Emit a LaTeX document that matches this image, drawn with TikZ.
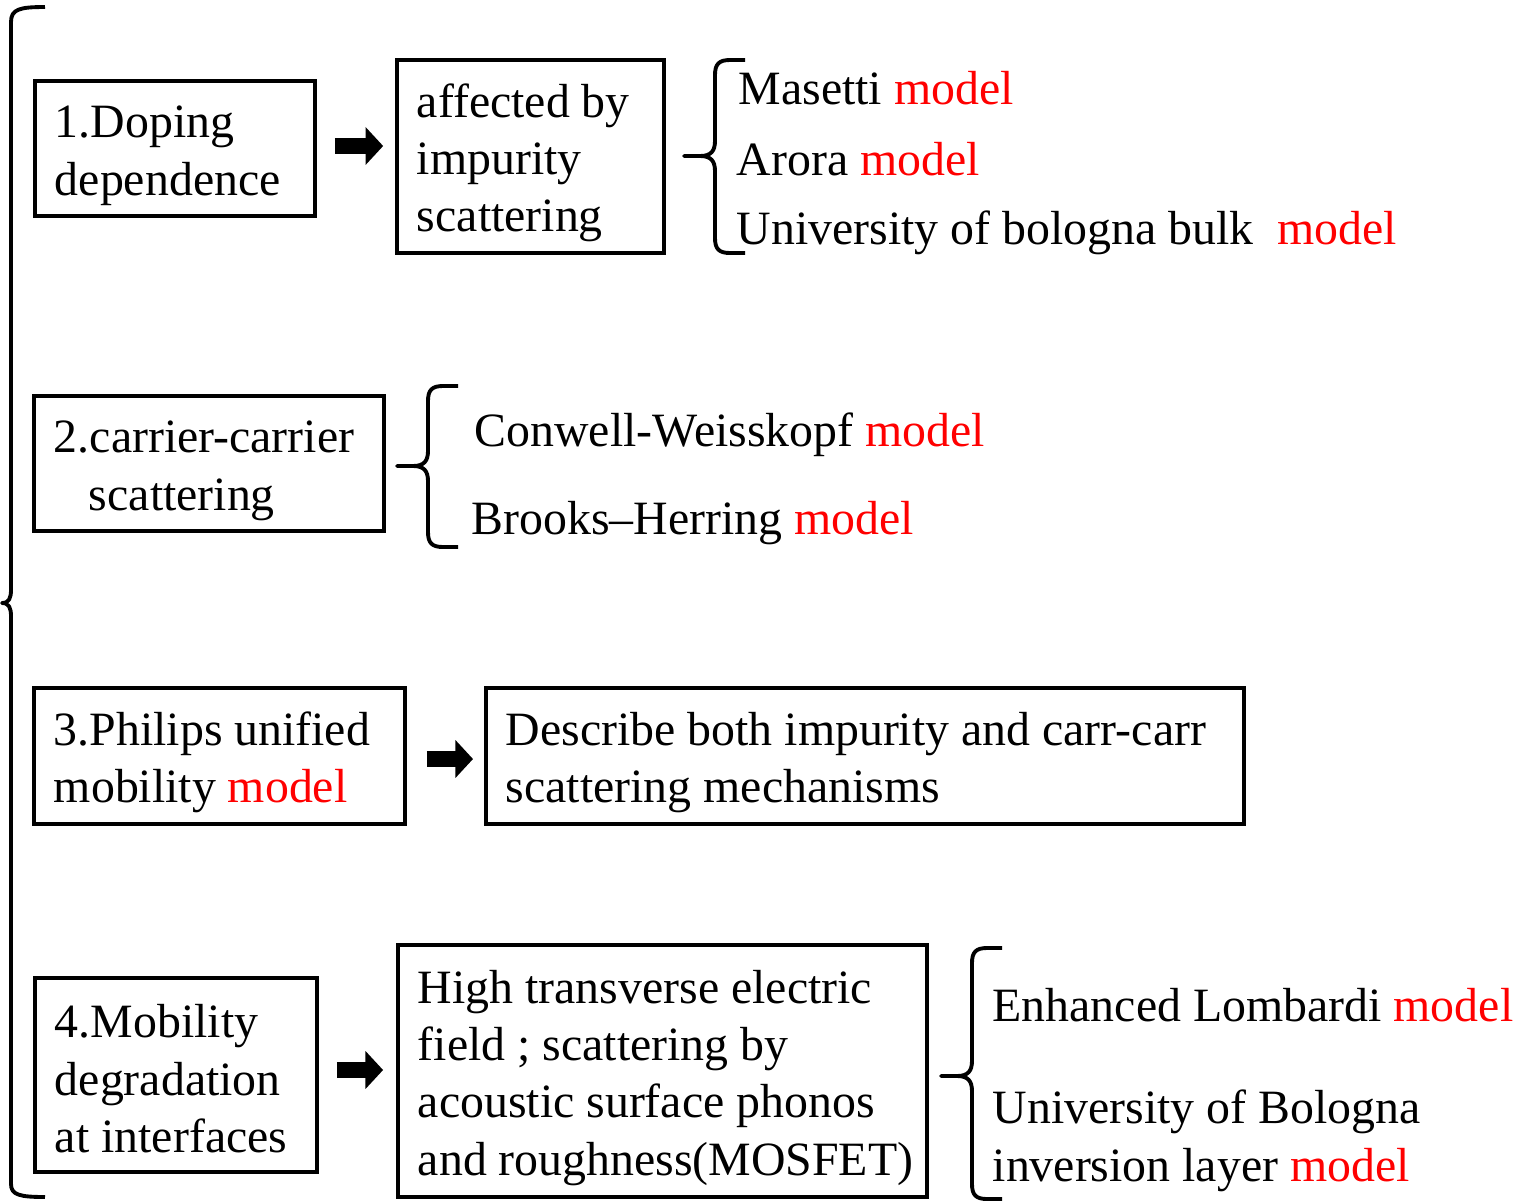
\documentclass[tikz,border=0pt]{standalone}
\usepackage{fontspec}
\setmainfont{Liberation Serif}
\usetikzlibrary{arrows.meta}

\newcommand\boxstrut{\rule[-0.13em]{0pt}{1.1em}}

\begin{document}
\begin{tikzpicture}[
        x=0.01cm,y=-0.01cm,
        font=\fontsize{13.6}{16.3}\selectfont,
        box/.style={draw,line width=1pt,align=flush left,inner xsep=0.2cm,inner ysep=0pt,
            execute at begin node=\boxstrut,execute at end node=\boxstrut},
        txt/.style={anchor=base west,inner sep=0pt},
        brace/.style={line width=1.1pt,line join=round},
        blockarrow/.style={line width=4.8pt,-{Triangle[length=5pt,width=10.5pt]}}
    ]
        \useasboundingbox (0,0) rectangle (1529,1202);

        \node[box,minimum width=2.8cm,minimum height=1.35cm,text width=2.4cm] (b1) at (175,148.5) {1.Doping\\dependence};
        \node[box,minimum width=2.67cm,minimum height=1.93cm,text width=2.27cm] (b2) at (530.5,156.5) {affected by\\impurity\\scattering};
        \node[box,minimum width=3.5cm,minimum height=1.35cm,text width=3.1cm] (b3) at (209,463.5) {2.carrier-carrier\\\hspace*{0.35cm}scattering};
        \node[box,minimum width=3.71cm,minimum height=1.36cm,text width=3.31cm] (b4) at (219.5,756) {3.Philips unified\\mobility \textcolor{red}{model}};
        \node[box,minimum width=7.58cm,minimum height=1.36cm,text width=7.18cm] (b5) at (865,756) {Describe both impurity and carr-carr\\scattering mechanisms};
        \node[box,minimum width=2.82cm,minimum height=1.94cm,text width=2.42cm] (b6) at (176,1075) {4.Mobility\\degradation\\at interfaces};
        \node[box,minimum width=5.29cm,minimum height=2.52cm,text width=4.89cm] (b7) at (662.5,1071) {High transverse electric\\field ; scattering by\\acoustic surface phonos\\\mbox{and roughness(MOSFET)}};

        \draw[blockarrow] ([xshift=0.18cm,yshift=0.025cm]b1.east) -- ([xshift=-0.12cm,yshift=0.025cm]b1.east -| b2.west);
        \draw[blockarrow] ([xshift=0.2cm,yshift=-0.03cm]b4.east) -- ([xshift=-0.11cm,yshift=-0.03cm]b5.west);
        \draw[blockarrow] ([xshift=0.18cm,yshift=0.05cm]b6.east) -- ([xshift=-0.13cm,yshift=0.05cm]b6.east -| b7.west);

        \node[txt] (masetti) at (738,104) {Masetti \textcolor{red}{model}};
        \node[txt] (arora) at (736,175) {Arora \textcolor{red}{model}};
        \node[txt] (unibo) at (736,244) {University of bologna bulk\ \ \textcolor{red}{model}};
        \node[txt] (conwell) at (474,446) {Conwell-Weisskopf \textcolor{red}{model}};
        \node[txt] (brooks) at (471,534) {Brooks–Herring \textcolor{red}{model}};
        \node[txt] (lombardi) at (992,1021) {Enhanced Lombardi \textcolor{red}{model}};
        \node[txt] (uniboinv) at (992,1123) {University of Bologna};
        \node[txt] (uniboinvb) at (992,1181) {inversion layer \textcolor{red}{model}};

        \draw[brace] (45,7) .. controls (20,7) and (11,9) .. (11,22) -- (11,590)
            .. controls (11,598) and (9,603) .. (2,603)
            .. controls (9,603) and (11,608) .. (11,616) -- (11,1184)
            .. controls (11,1195) and (20,1197) .. (45,1197);
        \draw[brace] (745,60) -- (730,60) .. controls (719,60) and (715,64) .. (715,75) -- (715,141)
            .. controls (715,151) and (711,156) .. (700,156) -- (684,156) -- (700,156)
            .. controls (711,156) and (715,161) .. (715,171) -- (715,238)
            .. controls (715,249) and (719,253) .. (730,253) -- (745,253);
        \draw[brace] (458,386) -- (443,386) .. controls (432,386) and (428,390) .. (428,401) -- (428,451)
            .. controls (428,461) and (424,466) .. (413,466) -- (397,466) -- (413,466)
            .. controls (424,466) and (428,471) .. (428,481) -- (428,532)
            .. controls (428,543) and (432,547) .. (443,547) -- (458,547);
        \draw[brace] (1002,948) -- (987,948) .. controls (976,948) and (972,952) .. (972,963) -- (972,1061)
            .. controls (972,1071) and (968,1076) .. (957,1076) -- (941,1076) -- (957,1076)
            .. controls (968,1076) and (972,1081) .. (972,1091) -- (972,1184)
            .. controls (972,1195) and (976,1199) .. (987,1199) -- (1002,1199);
    \end{tikzpicture}
\end{document}
